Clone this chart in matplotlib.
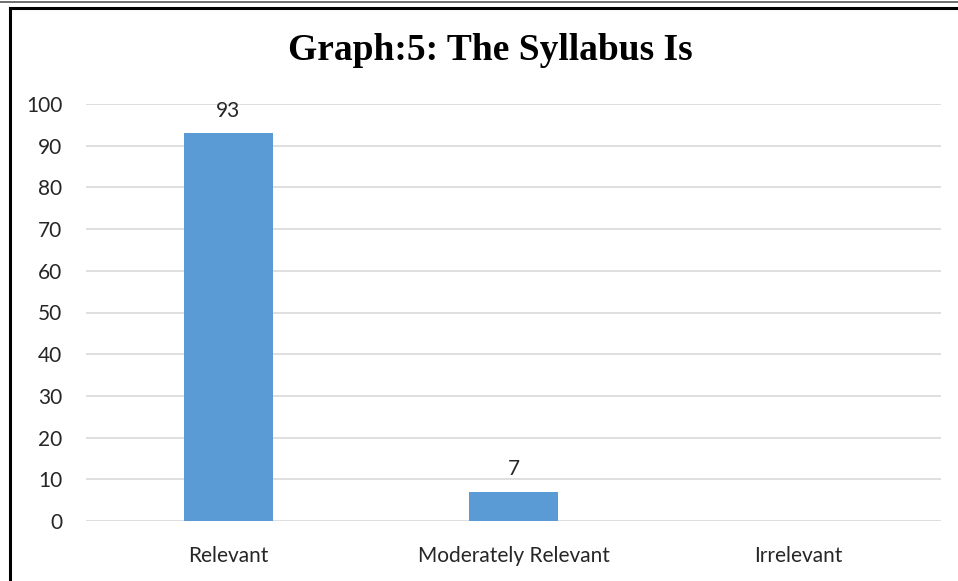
import matplotlib
matplotlib.use("Agg")
import matplotlib.pyplot as plt
from matplotlib.lines import Line2D

categories = ["Relevant", "Moderately Relevant", "Irrelevant"]
values = [93, 7, 0]
labels = ["93", "7", ""]
yticks = [0, 10, 20, 30, 40, 50, 60, 70, 80, 90, 100]

W, H = 958, 581
fig = plt.figure(figsize=(W / 100, H / 100), dpi=100)
fig.patch.set_facecolor("white")

left, right = 86 / W, 941 / W
bottom, top = 1 - 521 / H, 1 - 104 / H
ax = fig.add_axes([left, bottom, right - left, top - bottom])

FS = 15
x = range(len(categories))
bars = ax.bar(x, values, width=0.31, color="#5B9BD5", zorder=3)
for xi, v, lab in zip(x, values, labels):
    if lab:
        ax.text(xi, v + 3.0, lab, ha="center", va="bottom", fontsize=FS,
                family="Lato", color="#262626")

ax.set_xlim(-0.5, 2.5)
ax.set_ylim(0, 100)
ax.set_yticks(yticks)
ax.set_yticklabels([str(t) for t in yticks], fontsize=FS, family="Lato", color="#262626")
ax.set_xticks(list(x))
ax.set_xticklabels(categories, fontsize=FS, family="Lato", color="#262626")
ax.tick_params(axis="both", length=0)
ax.tick_params(axis="y", pad=17)
ax.tick_params(axis="x", pad=18)
ax.yaxis.grid(True, color="#d9d9d9", linewidth=1.2, zorder=0)
ax.set_axisbelow(True)
for s in ax.spines.values():
    s.set_visible(False)

fig.text(490 / W, 1 - 50 / H, "Graph:5: The Syllabus Is", ha="center", va="center",
         fontsize=27, fontweight="bold", family="Liberation Serif", color="black")

# frame
fig.add_artist(Line2D([0, 1], [1 - 1.5 / H, 1 - 1.5 / H], transform=fig.transFigure,
                      color="#555555", linewidth=1.2))
fig.add_artist(Line2D([9.5 / W, 1], [1 - 7.5 / H, 1 - 7.5 / H], transform=fig.transFigure,
                      color="black", linewidth=2.2))
fig.add_artist(Line2D([9.5 / W, 9.5 / W], [0, 1 - 7.5 / H], transform=fig.transFigure,
                      color="black", linewidth=2.2))

fig.savefig("out.png", dpi=100, facecolor="white")
